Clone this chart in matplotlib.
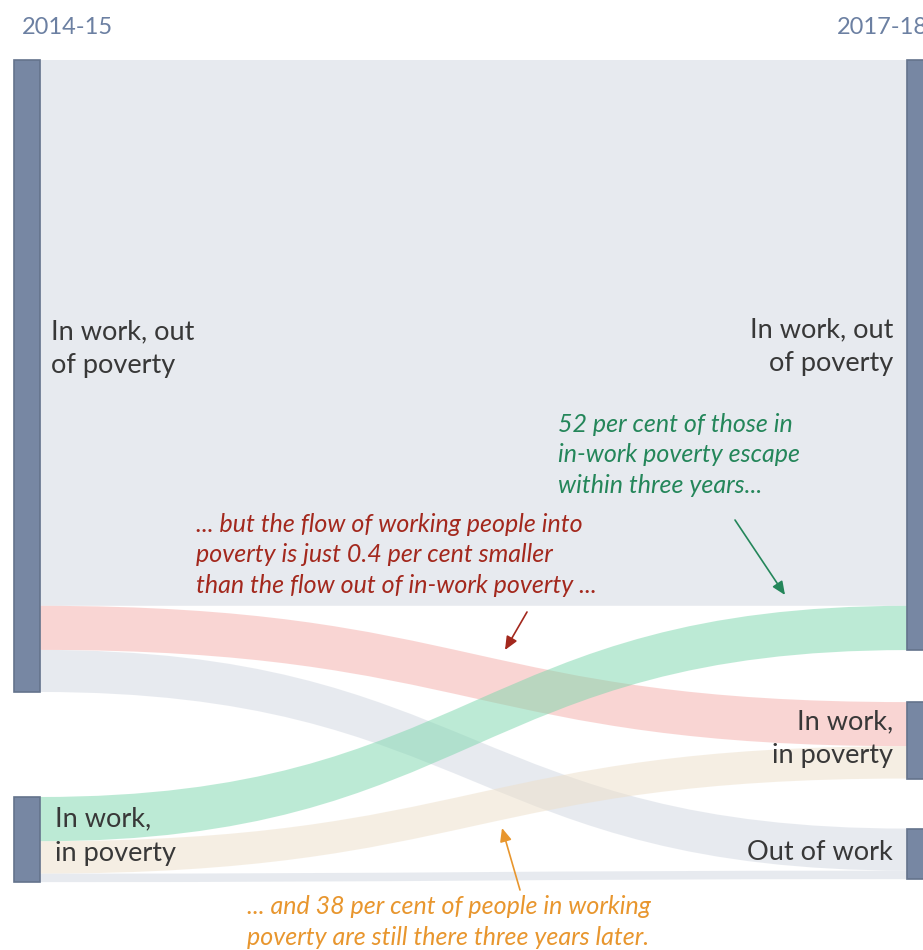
import matplotlib
matplotlib.use("Agg")
import matplotlib.pyplot as plt
from matplotlib.path import Path
from matplotlib.patches import PathPatch, Rectangle

# Flows per 100 people in in-work poverty in 2014-15
years = ["2014-15", "2017-18"]
left_nodes = ["In work, out\nof poverty", "In work,\nin poverty"]
right_nodes = ["In work, out\nof poverty", "In work,\nin poverty", "Out of work"]
# (source index, target index, value)
flow_src = [0, 0, 0, 1, 1, 1]
flow_dst = [0, 1, 2, 0, 1, 2]
flow_val = [641.0, 51.8, 49.4, 52.0, 38.0, 10.0]
flow_colors = ["#d1d7e1", "#f5ada9", "#d1d7e1", "#7bd7ad", "#eddfc9", "#d1d7e1"]

W, H = 923, 950
fig = plt.figure(figsize=(W / 100, H / 100), dpi=100)
ax = fig.add_axes([0, 0, 1, 1])
ax.set_xlim(0, W)
ax.set_ylim(H, 0)
ax.axis("off")

scale = 0.8515          # px per unit
top = 60
left_gap = [105]
right_gap = [52, 50]
lx0, lx1 = 14, 40
rx0, rx1 = 907, 933

node_color = "#7787a3"
node_edge = "#64738c"

def node_extents(totals, gaps):
    ext = []
    y = top
    for i, t in enumerate(totals):
        h = t * scale
        ext.append((y, y + h))
        y += h
        if i < len(gaps):
            y += gaps[i]
    return ext

left_tot = [sum(v for s, v in zip(flow_src, flow_val) if s == i) for i in range(len(left_nodes))]
right_tot = [sum(v for d, v in zip(flow_dst, flow_val) if d == i) for i in range(len(right_nodes))]
left_ext = node_extents(left_tot, left_gap)
right_ext = node_extents(right_tot, right_gap)

# stacking offsets on the left side
left_off = [e[0] for e in left_ext]
bands = []
for s, d, v in zip(flow_src, flow_dst, flow_val):
    h = v * scale
    bands.append((left_off[s], h))
    left_off[s] += h
# right side stacks by source order
right_off = [e[0] for e in right_ext]
order = sorted(range(len(flow_val)), key=lambda k: (flow_dst[k], flow_src[k]))
rpos = {}
for k in order:
    d = flow_dst[k]
    rpos[k] = right_off[d]
    right_off[d] += flow_val[k] * scale

xm = (lx1 + rx0) / 2
for k, (y0, h) in enumerate(bands):
    y1 = rpos[k]
    verts = [(lx1, y0), (xm, y0), (xm, y1), (rx0, y1),
             (rx0, y1 + h), (xm, y1 + h), (xm, y0 + h), (lx1, y0 + h), (lx1, y0)]
    codes = [Path.MOVETO, Path.CURVE4, Path.CURVE4, Path.CURVE4,
             Path.LINETO, Path.CURVE4, Path.CURVE4, Path.CURVE4, Path.CLOSEPOLY]
    ax.add_patch(PathPatch(Path(verts, codes), facecolor=flow_colors[k],
                           edgecolor="none", alpha=0.5, zorder=1))

for (a, b) in left_ext:
    ax.add_patch(Rectangle((lx0, a), lx1 - lx0, b - a, facecolor=node_color,
                           edgecolor=node_edge, lw=1.2, zorder=3))
for (a, b) in right_ext:
    ax.add_patch(Rectangle((rx0, a), rx1 - rx0, b - a, facecolor=node_color,
                           edgecolor=node_edge, lw=1.2, zorder=3, clip_on=False))

fam = ["Lato", "DejaVu Sans"]
ax.text(22, 28, years[0], fontsize=17, color="#6c80a2", family=fam,
        va="center", ha="left", zorder=6)
ax.text(837, 28, years[1], fontsize=17, color="#6c80a2", family=fam,
        va="center", ha="left", zorder=6)

lab = dict(fontsize=19.5, color="#383838", family=fam, linespacing=1.45, zorder=6)
ax.text(51, 349, left_nodes[0], va="center", ha="left", **lab)
ax.text(55, 836, left_nodes[1], va="center", ha="left", **lab)
ax.text(893, 347, right_nodes[0], va="center", ha="right", multialignment="right", **lab)
ax.text(893, 739, right_nodes[1], va="center", ha="right", multialignment="right", **lab)
ax.text(893, 853, right_nodes[2], va="center", ha="right", **lab)

ann = dict(fontsize=18, family=fam, style="italic", linespacing=1.4, zorder=6)
ax.text(196, 555, "... but the flow of working people into\npoverty is just 0.4 per cent smaller\n"
        "than the flow out of in-work poverty ...", color="#a3281d", va="center", ha="left", **ann)
ax.text(558, 455, "52 per cent of those in\nin-work poverty escape\nwithin three years...",
        color="#24865a", va="center", ha="left", **ann)
ax.text(449, 922, "... and 38 per cent of people in working\npoverty are still there three years later.",
        color="#e8962e", va="center", ha="center", multialignment="left", **ann)

def arrow(x0, y0, x1, y1, c):
    ax.annotate("", xy=(x1, y1), xytext=(x0, y0),
                arrowprops=dict(arrowstyle="-|>,head_length=0.8,head_width=0.35",
                                color=c, lw=1.2, shrinkA=0, shrinkB=0), zorder=5)

arrow(527, 612, 505, 650, "#a3281d")
arrow(735, 520, 785, 595, "#24865a")
arrow(520, 890, 502, 828, "#e8962e")

fig.savefig("out.png", dpi=100)
